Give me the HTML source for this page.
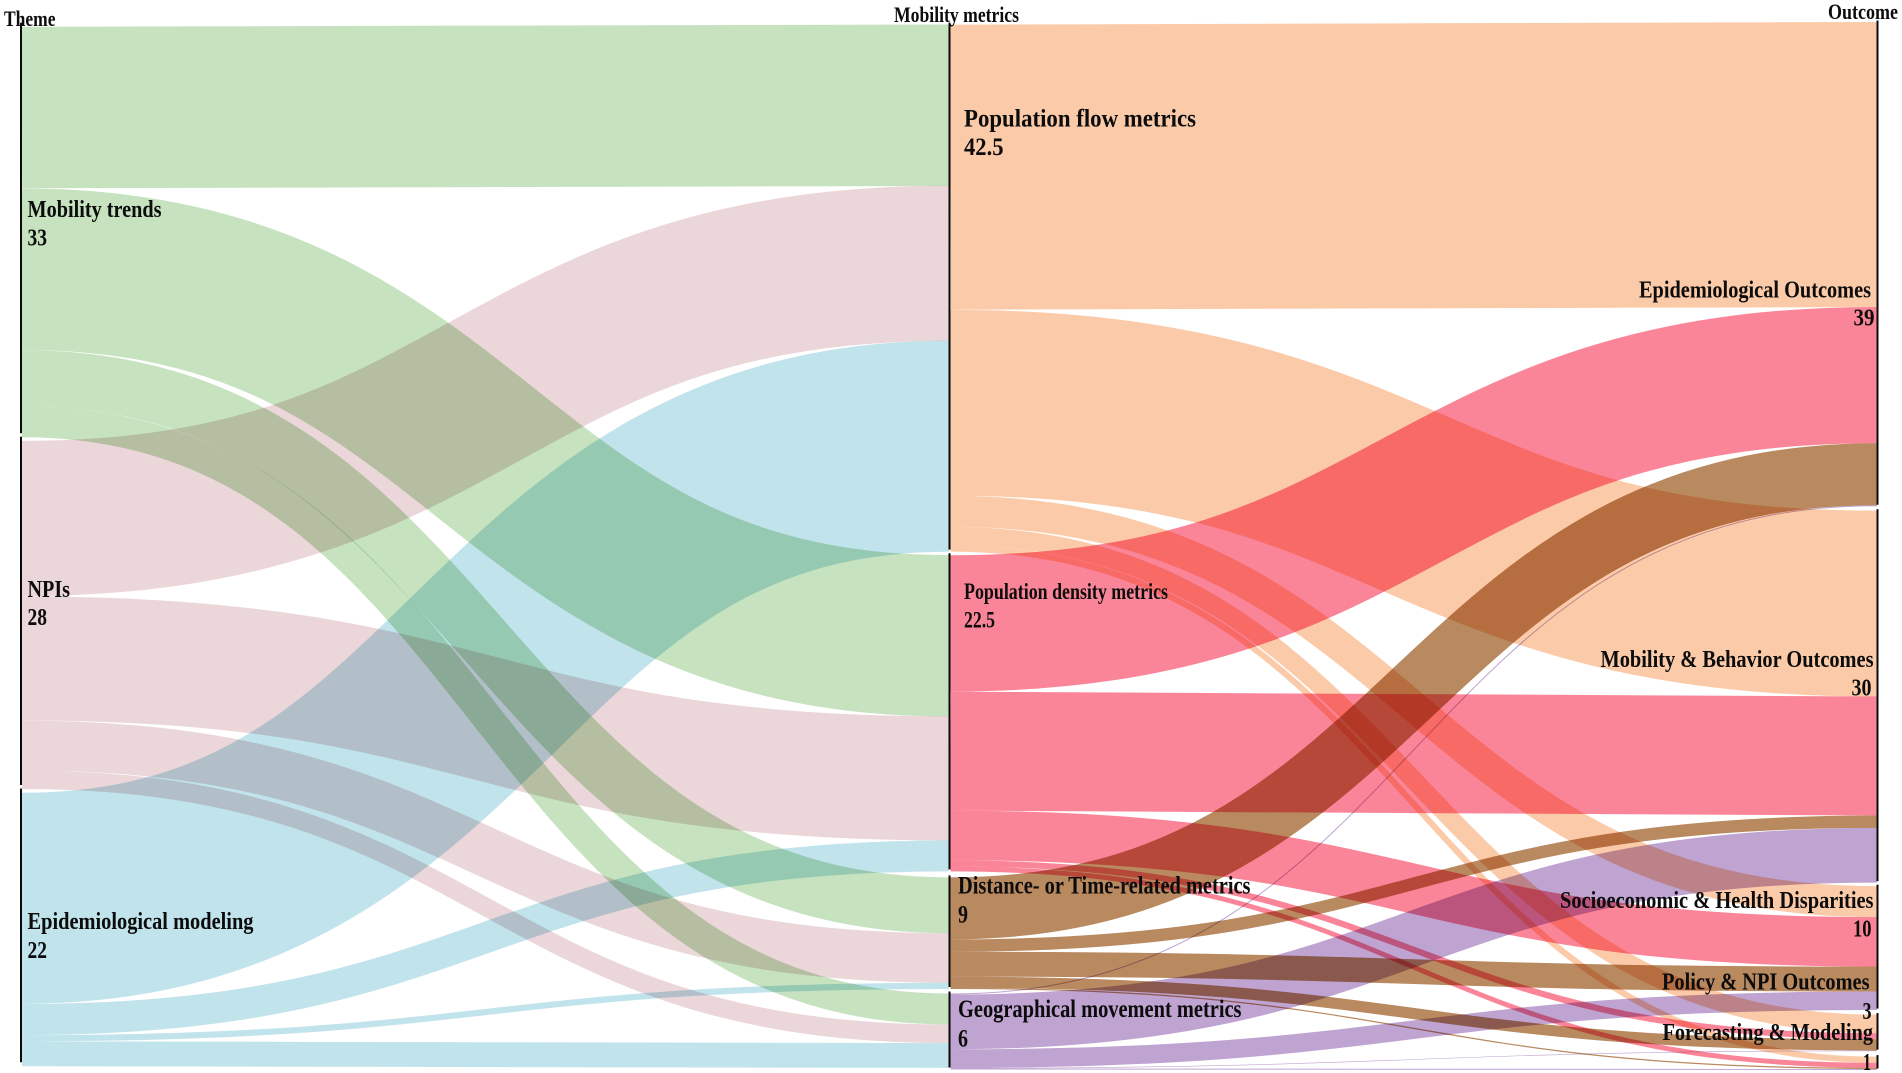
<!DOCTYPE html>
<html lang="en">
<head>
<meta charset="utf-8">
<title>Theme, mobility metrics and outcome Sankey diagram</title>
<style>
html,body{margin:0;padding:0;background:#fff;}
body{width:1902px;height:1073px;overflow:hidden;}
svg{display:block;background:#fff;isolation:isolate;}
text{font-family:"Liberation Serif","Times New Roman",serif;font-weight:bold;fill:#0c0c0c;}
.col-title{font-size:22px;}
.lbl{font-size:24px;}
path.ribbon{fill:none;mix-blend-mode:multiply;}
</style>
</head>
<body>
<svg id="chart" xmlns="http://www.w3.org/2000/svg" width="1902" height="1073" viewBox="0 0 1902 1073">
  <g id="ribbons"></g>
  <g id="axes"></g>
  <g id="labels">
    <text class="col-title" x="4" y="26" textLength="51.5" lengthAdjust="spacingAndGlyphs">Theme</text>
    <text class="col-title" x="894" y="22" textLength="125" lengthAdjust="spacingAndGlyphs">Mobility metrics</text>
    <text class="col-title" x="1828" y="19" textLength="70" lengthAdjust="spacingAndGlyphs">Outcome</text>

    <text class="lbl" x="27.5" y="217" textLength="134" lengthAdjust="spacingAndGlyphs">Mobility trends</text>
    <text class="lbl" x="27.5" y="245.5" textLength="19.5" lengthAdjust="spacingAndGlyphs">33</text>
    <text class="lbl" x="27.5" y="597" textLength="42.5" lengthAdjust="spacingAndGlyphs">NPIs</text>
    <text class="lbl" x="27.5" y="625" textLength="19.5" lengthAdjust="spacingAndGlyphs">28</text>
    <text class="lbl" x="27.5" y="929" textLength="226" lengthAdjust="spacingAndGlyphs">Epidemiological modeling</text>
    <text class="lbl" x="27.5" y="958" textLength="19.5" lengthAdjust="spacingAndGlyphs">22</text>

    <text class="lbl" style="font-size:25px" x="964" y="126.5" textLength="232" lengthAdjust="spacingAndGlyphs">Population flow metrics</text>
    <text class="lbl" style="font-size:25px" x="964" y="155" textLength="39.5" lengthAdjust="spacingAndGlyphs">42.5</text>
    <text class="lbl" style="font-size:23px" x="964" y="599" textLength="204" lengthAdjust="spacingAndGlyphs">Population density metrics</text>
    <text class="lbl" style="font-size:23px" x="964" y="627.5" textLength="31" lengthAdjust="spacingAndGlyphs">22.5</text>
    <text class="lbl" style="font-size:25px" x="958" y="893.5" textLength="292.5" lengthAdjust="spacingAndGlyphs">Distance- or Time-related metrics</text>
    <text class="lbl" style="font-size:25px" x="958" y="922.5" textLength="10" lengthAdjust="spacingAndGlyphs">9</text>
    <text class="lbl" style="font-size:25px" x="958" y="1017" textLength="283.5" lengthAdjust="spacingAndGlyphs">Geographical movement metrics</text>
    <text class="lbl" style="font-size:25px" x="958" y="1046.5" textLength="10" lengthAdjust="spacingAndGlyphs">6</text>

    <text class="lbl" x="1639" y="297.5" textLength="232" lengthAdjust="spacingAndGlyphs">Epidemiological Outcomes</text>
    <text class="lbl" x="1853.5" y="325.5" textLength="21" lengthAdjust="spacingAndGlyphs">39</text>
    <text class="lbl" x="1600.5" y="667" textLength="273" lengthAdjust="spacingAndGlyphs">Mobility &amp; Behavior Outcomes</text>
    <text class="lbl" x="1851.5" y="695.5" textLength="20" lengthAdjust="spacingAndGlyphs">30</text>
    <text class="lbl" x="1560" y="908" textLength="313.5" lengthAdjust="spacingAndGlyphs">Socioeconomic &amp; Health Disparities</text>
    <text class="lbl" x="1853" y="936.5" textLength="18.5" lengthAdjust="spacingAndGlyphs">10</text>
    <text class="lbl" x="1662" y="989.5" textLength="207.5" lengthAdjust="spacingAndGlyphs">Policy &amp; NPI Outcomes</text>
    <text class="lbl" x="1862.5" y="1019" textLength="9" lengthAdjust="spacingAndGlyphs">3</text>
    <text class="lbl" x="1662.5" y="1040" textLength="210.5" lengthAdjust="spacingAndGlyphs">Forecasting &amp; Modeling</text>
    <text class="lbl" x="1863" y="1070" textLength="8" lengthAdjust="spacingAndGlyphs">1</text>
  </g>
</svg>
<script>
// ---- Categories ----
const themeNames = ["mobility-trends", "npis", "epidemiological-modeling"];
const metricNames = ["population-flow", "population-density", "distance-time", "geographical-movement"];
const outcomeNames = ["epidemiological", "mobility-behavior", "socioeconomic-health", "policy-npi", "forecasting-modeling"];

// ---- Theme -> metric flow values (one entry per metric) ----
const mobilityTrendsFlows = [13, 13, 4.5, 2.5];
const npisFlows = [12.5, 10, 4, 1.5];
const epiModelingFlows = [17, 2.5, 0.5, 2];

// ---- Metric -> outcome flow values (one entry per outcome) ----
const populationFlowFlows = [23, 15, 2.5, 1.5, 0.5];
const populationDensityFlows = [11, 9.6, 4, 0.5, 0.4];
const distanceTimeFlows = [5, 1, 2, 0.9, 0.1];
const geographicalFlows = [0.08, 4.42, 1.5, 0.05, 0.08];

const themeMatrix = [mobilityTrendsFlows, npisFlows, epiModelingFlows];
const metricMatrix = [populationFlowFlows, populationDensityFlows, distanceTimeFlows, geographicalFlows];

// ---- Colours ----
const themeColors = ["#c6e2bf", "#ebd7d9", "#c1e3ec"];
const metricColors = ["#fbcba9", "#fb8598", "#b9895f", "#bfa3d1"];

// ---- Column geometry ----
const leftAxis = { x: 21, top: 26.7, scale: 12.44, gaps: [3.5, 3.5], lineShift: -4 };
const midAxis = { x: 949.5, top: 24.6, scale: 12.4, gaps: [3.6, 6, 4.5], lineShift: -2 };
const rightAxis = { x: 1877.5, top: 22, scale: 12.39, gaps: [4.5, 3.5, 4.5, 5.5], lineShift: -1.5 };

const svgNS = "http://www.w3.org/2000/svg";
const ribbonLayer = document.getElementById("ribbons");
const axisLayer = document.getElementById("axes");

function sum(list) {
  return list.reduce(function (a, b) { return a + b; }, 0);
}
function column(list) {
  return function (i) { return list.map(function (row) { return row[i]; }); };
}
// Value scale: converts stacked node totals to y positions on one axis.
function nodeTops(axis, totals) {
  const tops = [];
  let y = axis.top;
  totals.forEach(function (t, i) {
    tops.push(y);
    y += t * axis.scale + (axis.gaps[i] || 0);
  });
  return tops;
}
function ribbonPath(x0, y0, x1, y1) {
  const mx = (x0 + x1) / 2;
  return "M" + x0 + " " + y0 + "C" + mx + " " + y0 + " " + mx + " " + y1 + " " + x1 + " " + y1;
}
function drawStage(matrix, srcAxis, dstAxis, srcTotals, dstTotals, colors, srcNames, dstNames) {
  const srcTop = nodeTops(srcAxis, srcTotals);
  const dstTop = nodeTops(dstAxis, dstTotals);
  const dstOffset = dstTop.slice();
  const avg = (srcAxis.scale + dstAxis.scale) / 2;
  matrix.forEach(function (row, s) {
    let sy = srcTop[s];
    row.forEach(function (value, d) {
      const h0 = value * srcAxis.scale;
      const h1 = value * dstAxis.scale;
      const y0 = sy + h0 / 2;
      const y1 = dstOffset[d] + h1 / 2;
      const p = document.createElementNS(svgNS, "path");
      p.setAttribute("class", "ribbon");
      p.setAttribute("d", ribbonPath(srcAxis.x + 1, y0, dstAxis.x - 0.5, y1));
      p.setAttribute("stroke", colors[s]);
      p.setAttribute("stroke-width", value * avg);
      
      
      ribbonLayer.appendChild(p);
      sy += h0;
      dstOffset[d] += h1;
    });
  });
}
function drawAxis(axis, totals, names) {
  const tops = nodeTops(axis, totals);
  totals.forEach(function (t, i) {
    const r = document.createElementNS(svgNS, "rect");
    r.setAttribute("x", axis.x - 1);
    r.setAttribute("y", tops[i] + axis.lineShift);
    r.setAttribute("width", 2);
    r.setAttribute("height", t * axis.scale);
    r.setAttribute("fill", "#0a0a0a");
    
    
    axisLayer.appendChild(r);
  });
}

const themeTotals = themeMatrix.map(sum);
const metricInTotals = metricNames.map(function (_, i) { return sum(column(themeMatrix)(i)); });
const metricOutTotals = metricMatrix.map(sum);
const metricTotals = metricInTotals.map(function (v, i) { return Math.max(v, metricOutTotals[i]); });
const outcomeTotals = outcomeNames.map(function (_, i) { return sum(column(metricMatrix)(i)); });

drawStage(themeMatrix, leftAxis, midAxis, themeTotals, metricTotals, themeColors, themeNames, metricNames);
drawStage(metricMatrix, midAxis, rightAxis, metricTotals, outcomeTotals, metricColors, metricNames, outcomeNames);
drawAxis(leftAxis, themeTotals, themeNames);
drawAxis(midAxis, metricTotals, metricNames);
drawAxis(rightAxis, outcomeTotals, outcomeNames);
</script>
</body>
</html>
